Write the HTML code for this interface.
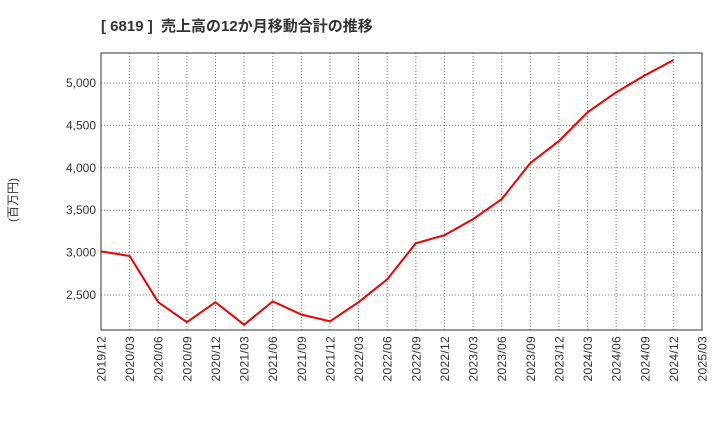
<!DOCTYPE html>
<html><head><meta charset="utf-8"><style>
body{margin:0;background:#fff;font-family:"Liberation Sans","Noto Sans CJK JP",sans-serif;}
svg text{font-family:"Liberation Sans","Noto Sans CJK JP",sans-serif;}
</style></head><body>
<svg id="chart" width="720" height="440">
<text x="101" y="31" font-size="15" font-weight="bold" fill="#333" xml:space="preserve">[ 6819 ]  売上高の12か月移動合計の推移</text>
<text transform="translate(17,200) rotate(-90)" font-size="12" fill="#333" text-anchor="middle">(百万円)</text>
<g id="grid"></g><g id="axes"></g><g id="series"></g>
</svg>
<script>
const xLabels=["2019/12","2020/03","2020/06","2020/09","2020/12","2021/03","2021/06","2021/09","2021/12","2022/03","2022/06","2022/09","2022/12","2023/03","2023/06","2023/09","2023/12","2024/03","2024/06","2024/09","2024/12","2025/03"];
const values=[3015,2960,2415,2180,2415,2150,2425,2270,2190,2415,2685,3110,3205,3395,3630,4055,4315,4655,4890,5090,5270];
const yTicks=[2500,3000,3500,4000,4500,5000];
const L=101,R=702,T=53,B=330;
const x=i=>L+i*(R-L)/(xLabels.length-1);
const y=v=>295-(v-2500)*(295-83)/2500;
const NS="http://www.w3.org/2000/svg";
function mk(tag,attrs,parent){const e=document.createElementNS(NS,tag);for(const k in attrs)e.setAttribute(k,attrs[k]);parent.appendChild(e);return e;}
const grid=document.getElementById('grid'),axes=document.getElementById('axes'),series=document.getElementById('series');
xLabels.forEach((lab,i)=>{
 const l=mk('line',{x1:x(i),x2:x(i),y1:T,y2:B,stroke:'#777','stroke-dasharray':'1,2','stroke-width':1},grid);
 
 
 const t=mk('text',{transform:`translate(${x(i)+4.5},${B+6}) rotate(-90)`,'font-size':12,fill:'#333','text-anchor':'end','letter-spacing':0.3},axes);
 t.textContent=lab;
 
 
});
yTicks.forEach(v=>{
 const l=mk('line',{x1:L,x2:R,y1:y(v),y2:y(v),stroke:'#777','stroke-dasharray':'1,2','stroke-width':1},grid);
 
 
 const t=mk('text',{x:L-5,y:y(v)+4,'font-size':12,fill:'#333','text-anchor':'end'},axes);
 t.textContent=v.toLocaleString('en-US');
 
 
});
const frame=mk('rect',{x:L,y:T,width:R-L,height:B-T,fill:'none',stroke:'#333','stroke-width':1},axes);


const line=mk('polyline',{points:values.map((v,i)=>x(i)+','+y(v)).join(' '),fill:'none',stroke:'#e00','stroke-width':2},series);


</script>
</body></html>
